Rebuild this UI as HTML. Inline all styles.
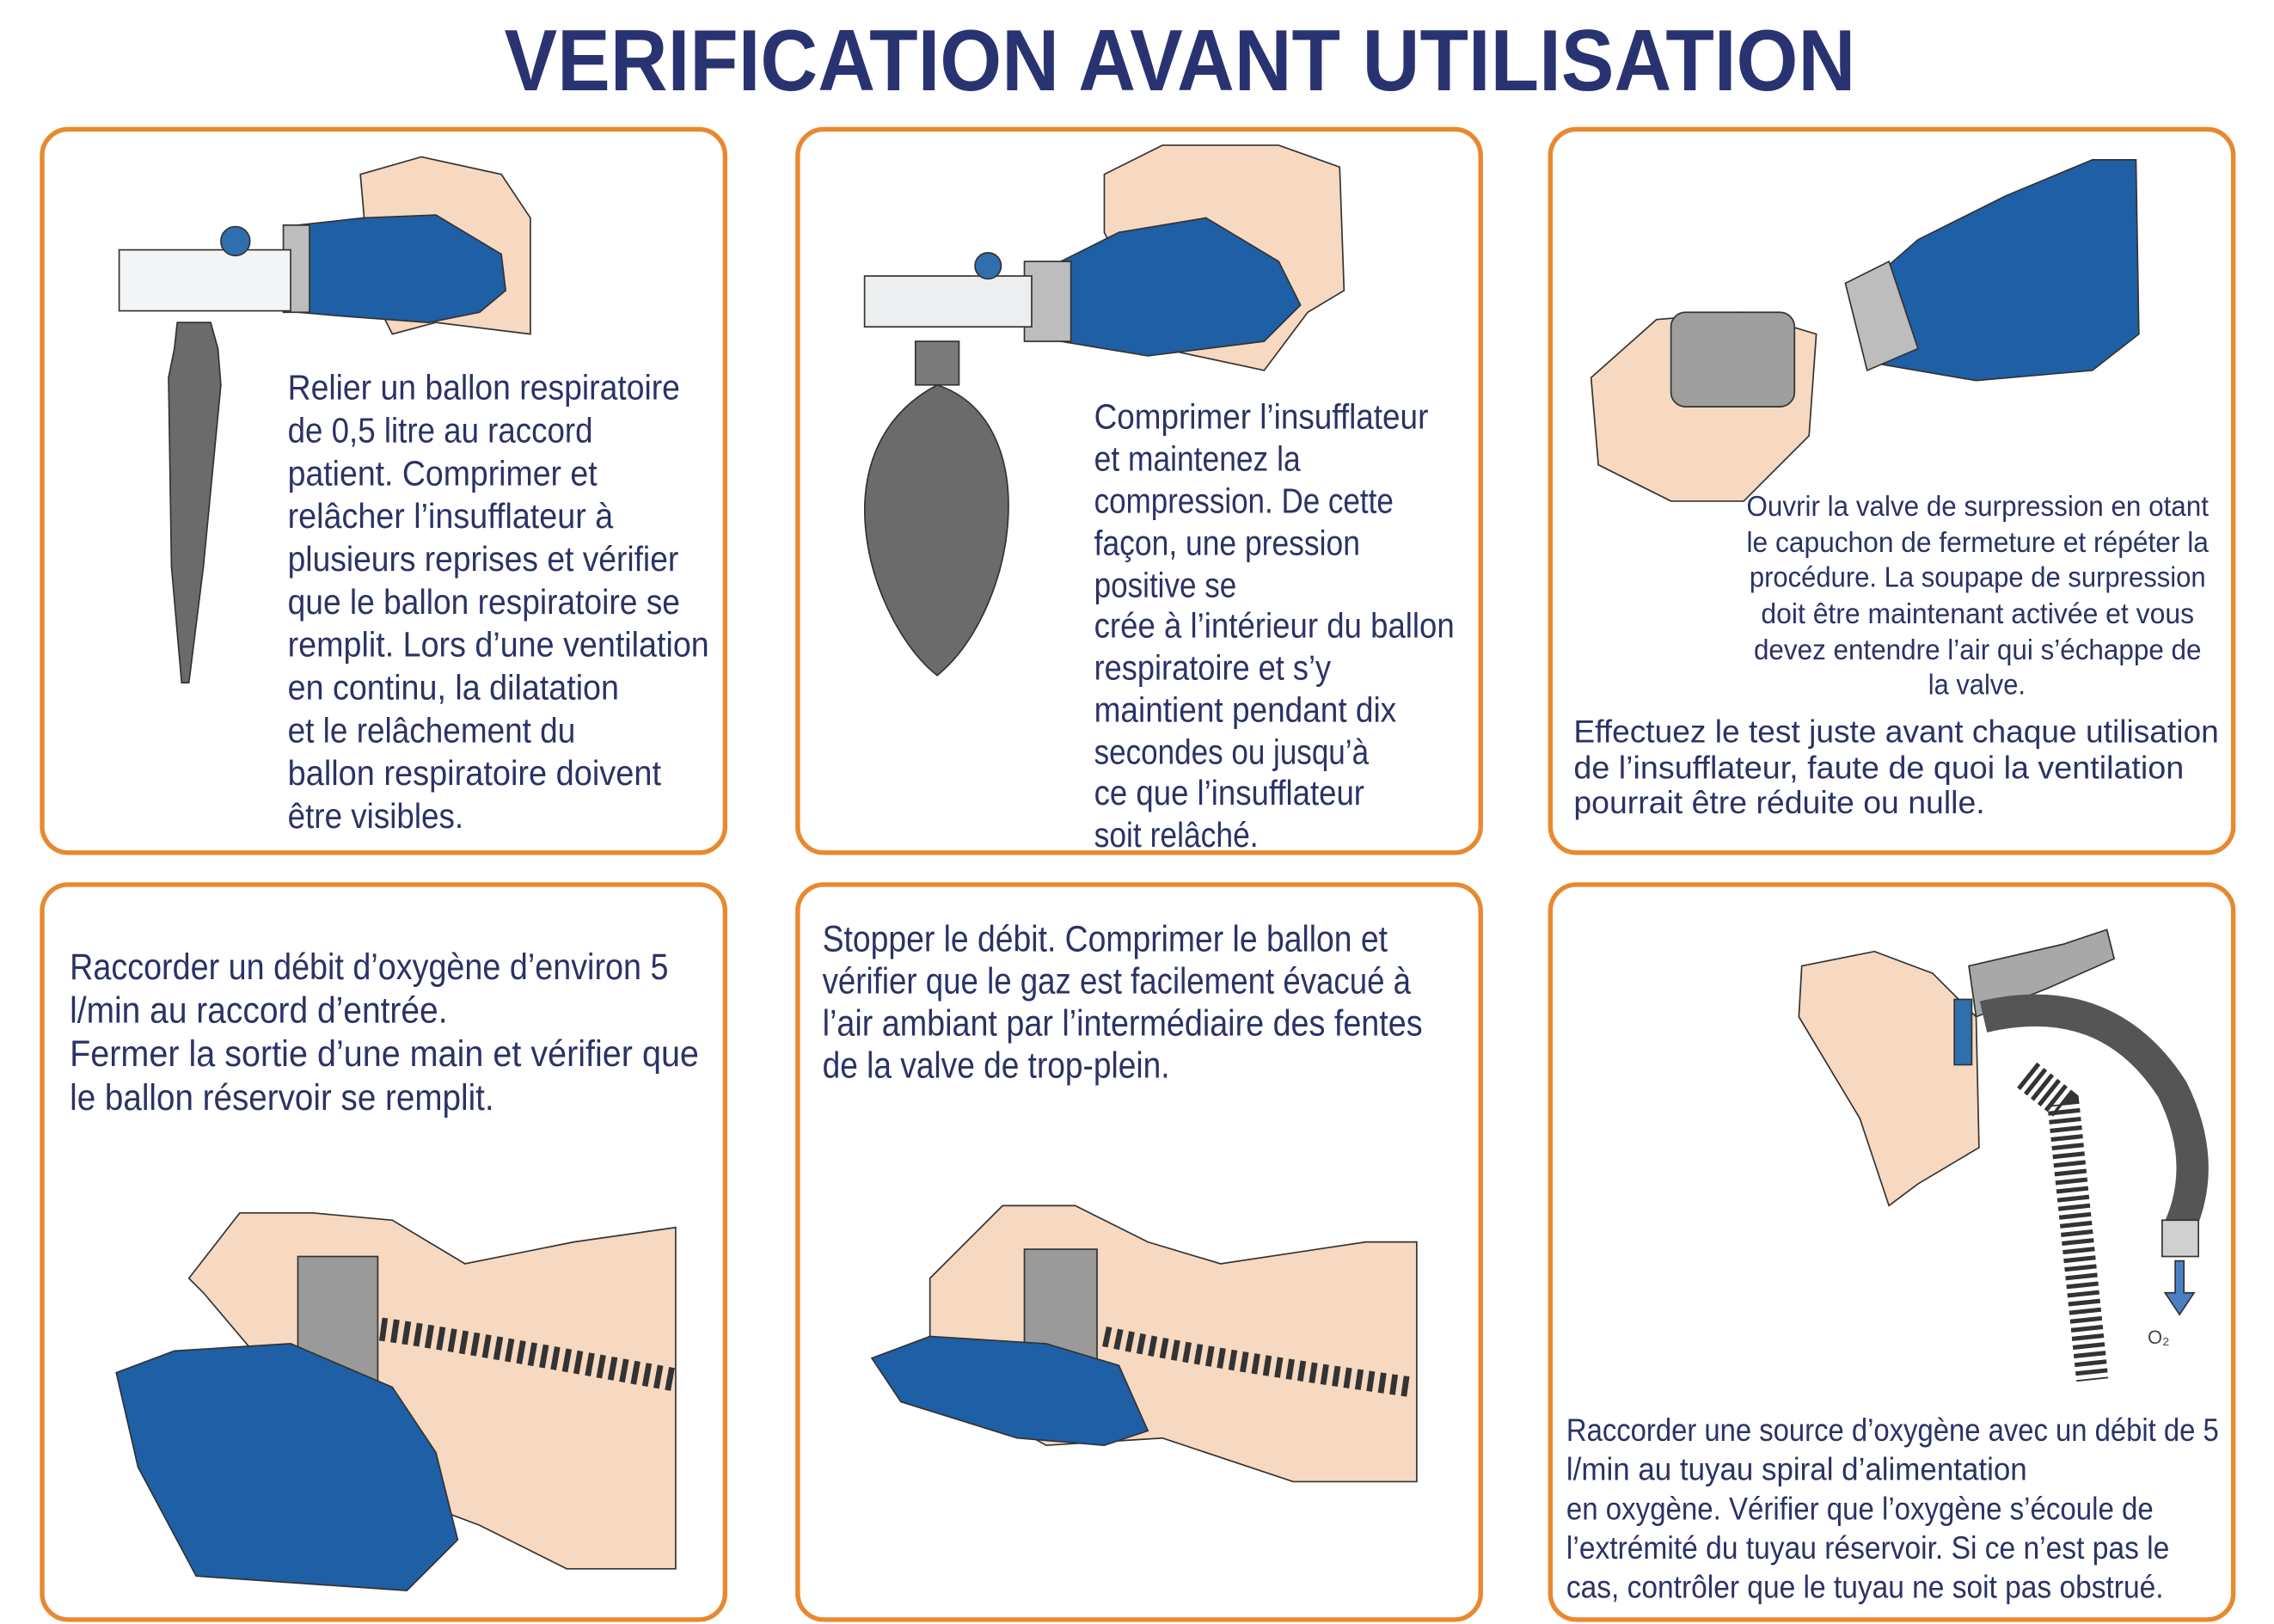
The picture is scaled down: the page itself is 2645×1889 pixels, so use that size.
<!DOCTYPE html>
<html><head><meta charset="utf-8"><style>
html,body{margin:0;padding:0;background:#fff;}
svg{display:block;}
text{font-family:"Liberation Sans",sans-serif;fill:#2b3266;}
</style></head><body>
<svg width="2645" height="1889" viewBox="0 0 1565 1118" preserveAspectRatio="none" xmlns="http://www.w3.org/2000/svg">
<rect width="1565" height="1118" fill="#fff"/>
<text x="347" y="62" font-size="60" font-weight="bold" textLength="930" lengthAdjust="spacingAndGlyphs" style="fill:#2a3371">VERIFICATION AVANT UTILISATION</text>
<g fill="none" stroke="#e8892f" stroke-width="3.2">
<rect x="29" y="89" width="470" height="498" rx="18"/>
<rect x="549" y="89" width="470" height="498" rx="18"/>
<rect x="1067" y="89" width="470" height="498" rx="18"/>
<rect x="29" y="609" width="470" height="506" rx="18"/>
<rect x="549" y="609" width="470" height="506" rx="18"/>
<rect x="1067" y="609" width="470" height="506" rx="18"/>
</g>
<!-- Panel 1 illustration -->
<g stroke="#333" stroke-width="1">
<path d="M248,120 L290,108 L345,120 L365,150 L365,230 L300,222 L270,230 L255,200 Z" fill="#f7d8c0"/>
<path d="M205,155 L250,150 L300,148 L345,175 L348,200 L330,215 L295,222 L240,218 L205,215 Z" fill="#1e5fa6"/>
<rect x="195" y="155" width="18" height="60" fill="#bdbdbd"/>
<rect x="82" y="172" width="118" height="42" fill="#f2f4f6"/>
<circle cx="162" cy="166" r="10" fill="#2f6fae"/>
<path d="M122,222 L145,222 L150,240 L152,265 L140,390 L130,470 L125,470 L118,390 L116,260 L120,240 Z" fill="#6b6b6b"/>
</g>
<!-- Panel 2 illustration -->
<g stroke="#333" stroke-width="1">
<path d="M760,120 L800,100 L880,100 L922,115 L925,200 L900,215 L870,255 L800,240 L760,160 Z" fill="#f7d8c0"/>
<path d="M720,185 L770,160 L830,150 L880,180 L895,210 L870,235 L790,245 L730,235 Z" fill="#1e5fa6"/>
<rect x="705" y="180" width="32" height="55" fill="#bdbdbd"/>
<rect x="595" y="190" width="115" height="35" fill="#eceef0"/>
<circle cx="680" cy="183" r="9" fill="#2f6fae"/>
<rect x="630" y="235" width="30" height="30" fill="#7a7a7a"/>
<path d="M645,265 C720,290 700,420 645,465 C600,430 560,310 645,265 Z" fill="#6b6b6b"/>
</g>
<!-- Panel 3 illustration -->
<g stroke="#333" stroke-width="1">
<path d="M1280,200 L1320,165 L1380,135 L1440,110 L1470,110 L1472,230 L1440,255 L1360,262 L1290,250 Z" fill="#1e5fa6"/>
<path d="M1270,195 L1300,180 L1320,240 L1285,255 Z" fill="#bdbdbd"/>
<path d="M1095,260 L1140,220 L1200,215 L1250,230 L1245,300 L1200,345 L1150,345 L1100,320 Z" fill="#f7d8c0"/>
<rect x="1150" y="215" width="85" height="65" rx="10" fill="#9e9e9e"/>
</g>
<!-- Panel 4 illustration -->
<g stroke="#333" stroke-width="1">
<path d="M130,880 L165,835 L215,835 L270,840 L320,870 L395,855 L465,845 L465,1080 L390,1080 L330,1050 L250,1020 L140,890 Z" fill="#f7d8c0"/>
<rect x="205" y="865" width="55" height="100" fill="#9a9a9a"/>
<path d="M262,915 Q300,920 465,950" stroke="#333" stroke-width="16" stroke-dasharray="4 4" fill="none"/>
<path d="M80,945 L120,930 L200,925 L270,955 L300,1000 L315,1060 L280,1095 L135,1085 L95,1010 Z" fill="#1e5fa6"/>
</g>
<!-- Panel 5 illustration -->
<g stroke="#333" stroke-width="1">
<path d="M640,880 L690,830 L740,830 L790,855 L840,870 L940,855 L975,855 L975,1020 L890,1020 L800,990 L720,995 L640,950 Z" fill="#f7d8c0"/>
<rect x="705" y="860" width="50" height="100" fill="#9a9a9a"/>
<path d="M760,920 Q830,935 972,955" stroke="#333" stroke-width="14" stroke-dasharray="4 4" fill="none"/>
<path d="M600,935 L640,920 L720,925 L770,940 L790,985 L760,995 L700,990 L620,965 Z" fill="#1e5fa6"/>
</g>
<!-- Panel 6 illustration -->
<g stroke="#333" stroke-width="1">
<path d="M1240,665 L1290,655 L1330,670 L1360,700 L1362,790 L1320,815 L1300,830 L1280,770 L1238,700 Z" fill="#f7d8c0"/>
<path d="M1355,665 L1420,650 L1450,640 L1455,660 L1410,680 L1360,700 Z" fill="#a8a8a8"/>
<path d="M1365,700 Q1450,680 1495,750 Q1520,800 1500,845" stroke="#555" stroke-width="22" fill="none"/>
<rect x="1345" y="688" width="12" height="45" fill="#2f6fae"/>
<rect x="1488" y="840" width="25" height="25" fill="#d0d0d0"/>
<path d="M1395,740 L1420,760 L1440,950" stroke="#333" stroke-width="22" stroke-dasharray="3 3" fill="none"/>
<path d="M1497,868 L1497,890 L1490,890 L1500,905 L1510,890 L1503,890 L1503,868 Z" fill="#4a7fc4"/>
</g>
<text x="1478" y="925" font-size="13" style="fill:#444">O₂</text>
<!-- Panel 1 text -->
<g font-size="24">
<text x="198" y="275" textLength="270" lengthAdjust="spacingAndGlyphs">Relier un ballon respiratoire</text>
<text x="198" y="304.5" textLength="210" lengthAdjust="spacingAndGlyphs">de 0,5 litre au raccord</text>
<text x="198" y="334" textLength="213" lengthAdjust="spacingAndGlyphs">patient. Comprimer et</text>
<text x="198" y="363.5" textLength="224" lengthAdjust="spacingAndGlyphs">relâcher l’insufflateur à</text>
<text x="198" y="393" textLength="269" lengthAdjust="spacingAndGlyphs">plusieurs reprises et vérifier</text>
<text x="198" y="422.5" textLength="270" lengthAdjust="spacingAndGlyphs">que le ballon respiratoire se</text>
<text x="198" y="452" textLength="290" lengthAdjust="spacingAndGlyphs">remplit. Lors d’une ventilation</text>
<text x="198" y="481.5" textLength="228" lengthAdjust="spacingAndGlyphs">en continu, la dilatation</text>
<text x="198" y="511" textLength="198" lengthAdjust="spacingAndGlyphs">et le relâchement du</text>
<text x="198" y="540.5" textLength="257" lengthAdjust="spacingAndGlyphs">ballon respiratoire doivent</text>
<text x="198" y="570" textLength="121" lengthAdjust="spacingAndGlyphs">être visibles.</text>
</g>
<!-- Panel 2 text -->
<g font-size="24">
<text x="753" y="295" textLength="230" lengthAdjust="spacingAndGlyphs">Comprimer l’insufflateur</text>
<text x="753" y="324" textLength="142" lengthAdjust="spacingAndGlyphs">et maintenez la</text>
<text x="753" y="353" textLength="206" lengthAdjust="spacingAndGlyphs">compression. De cette</text>
<text x="753" y="382" textLength="183" lengthAdjust="spacingAndGlyphs">façon, une pression</text>
<text x="753" y="411" textLength="98" lengthAdjust="spacingAndGlyphs">positive se</text>
<text x="753" y="439" textLength="248" lengthAdjust="spacingAndGlyphs">crée à l’intérieur du ballon</text>
<text x="753" y="468" textLength="163" lengthAdjust="spacingAndGlyphs">respiratoire et s’y</text>
<text x="753" y="497" textLength="208" lengthAdjust="spacingAndGlyphs">maintient pendant dix</text>
<text x="753" y="526" textLength="189" lengthAdjust="spacingAndGlyphs">secondes ou jusqu’à</text>
<text x="753" y="554" textLength="186" lengthAdjust="spacingAndGlyphs">ce que l’insufflateur</text>
<text x="753" y="583" textLength="113" lengthAdjust="spacingAndGlyphs">soit relâché.</text>
</g>
<!-- Panel 3 text -->
<g font-size="20">
<text x="1202" y="355" textLength="318" lengthAdjust="spacingAndGlyphs">Ouvrir la valve de surpression en otant</text>
<text x="1202" y="380" textLength="318" lengthAdjust="spacingAndGlyphs">le capuchon de fermeture et répéter la</text>
<text x="1204" y="404" textLength="314" lengthAdjust="spacingAndGlyphs">procédure. La soupape de surpression</text>
<text x="1212" y="429" textLength="298" lengthAdjust="spacingAndGlyphs">doit être maintenant activée et vous</text>
<text x="1207" y="454" textLength="308" lengthAdjust="spacingAndGlyphs">devez entendre l’air qui s’échappe de</text>
<text x="1327" y="478" textLength="67" lengthAdjust="spacingAndGlyphs">la valve.</text>
</g>
<g font-size="22">
<text x="1083" y="511" textLength="444" lengthAdjust="spacingAndGlyphs">Effectuez le test juste avant chaque utilisation</text>
<text x="1083" y="536" textLength="420" lengthAdjust="spacingAndGlyphs">de l’insufflateur, faute de quoi la ventilation</text>
<text x="1083" y="560" textLength="283" lengthAdjust="spacingAndGlyphs">pourrait être réduite ou nulle.</text>
</g>
<!-- Panel 4 text -->
<g font-size="25">
<text x="48" y="674" textLength="412" lengthAdjust="spacingAndGlyphs">Raccorder un débit d’oxygène d’environ 5</text>
<text x="48" y="704" textLength="260" lengthAdjust="spacingAndGlyphs">l/min au raccord d’entrée.</text>
<text x="48" y="734" textLength="433" lengthAdjust="spacingAndGlyphs">Fermer la sortie d’une main et vérifier que</text>
<text x="48" y="764" textLength="292" lengthAdjust="spacingAndGlyphs">le ballon réservoir se remplit.</text>
</g>
<!-- Panel 5 text -->
<g font-size="25">
<text x="566" y="655" textLength="389" lengthAdjust="spacingAndGlyphs">Stopper le débit. Comprimer le ballon et</text>
<text x="566" y="684" textLength="405" lengthAdjust="spacingAndGlyphs">vérifier que le gaz est  facilement évacué à</text>
<text x="566" y="713" textLength="413" lengthAdjust="spacingAndGlyphs">l’air ambiant par l’intermédiaire des fentes</text>
<text x="566" y="742" textLength="239" lengthAdjust="spacingAndGlyphs">de la valve de trop-plein.</text>
</g>
<!-- Panel 6 text -->
<g font-size="22">
<text x="1078" y="992" textLength="449" lengthAdjust="spacingAndGlyphs">Raccorder une source d’oxygène avec un débit de 5</text>
<text x="1078" y="1019" textLength="317" lengthAdjust="spacingAndGlyphs">l/min au tuyau spiral d’alimentation</text>
<text x="1078" y="1046" textLength="404" lengthAdjust="spacingAndGlyphs">en oxygène. Vérifier que l’oxygène s’écoule de</text>
<text x="1078" y="1073" textLength="415" lengthAdjust="spacingAndGlyphs">l’extrémité du tuyau réservoir. Si ce n’est pas le</text>
<text x="1078" y="1100" textLength="411" lengthAdjust="spacingAndGlyphs">cas, contrôler que le tuyau ne soit pas obstrué.</text>
</g>
</svg>
</body></html>
